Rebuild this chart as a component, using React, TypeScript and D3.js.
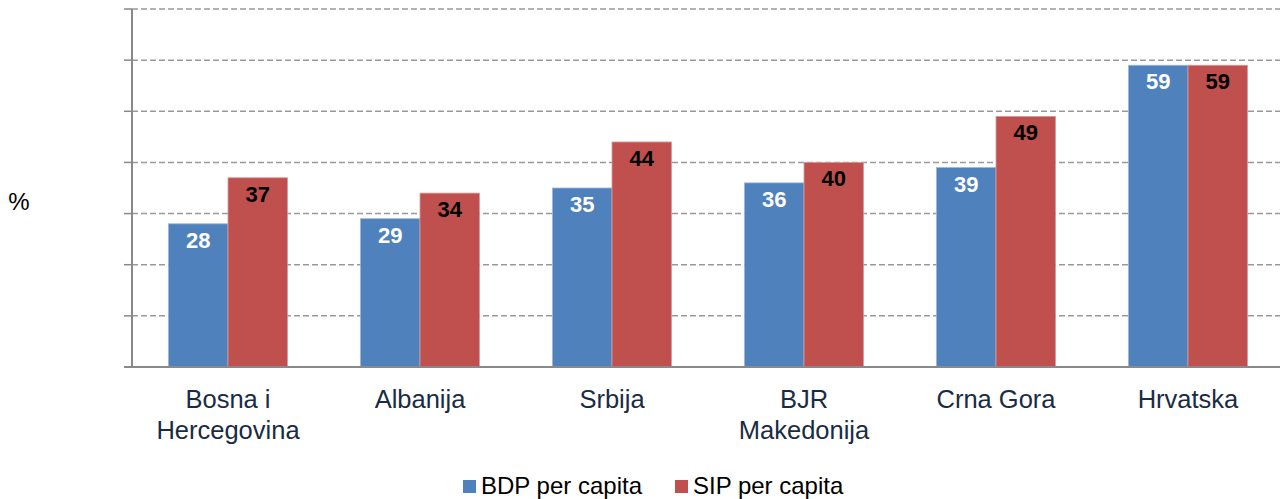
import React, { useEffect, useRef } from 'react';
import * as d3 from 'd3';

const categories = ['Bosna i|Hercegovina', 'Albanija', 'Srbija', 'BJR|Makedonija', 'Crna Gora', 'Hrvatska'];
const bdp = [28, 29, 35, 36, 39, 59];
const sip = [37, 34, 44, 40, 49, 59];
const seriesNames = ['BDP per capita', 'SIP per capita'];
const colors = ['#4F81BD', '#C0504D'];
const labelColors = ['#FFFFFF', '#000000'];
const yTicks = [0, 10, 20, 30, 40, 50, 60, 70];

function Chart() {
  const ref = useRef<SVGSVGElement>(null);

  useEffect(() => {
    const width = 1280;
    const height = 499;
    const left = 132;
    const right = 1284;
    const top = 9;
    const bottom = 367;
    const font = 'Liberation Sans, Arial, sans-serif';

    const svg = d3.select(ref.current);
    svg.selectAll('*').remove();
    svg.attr('width', width).attr('height', height);

    const x = d3.scaleBand().domain(categories).range([left, right]).paddingInner(0.38).paddingOuter(0.19);
    const xs = d3.scaleBand().domain(seriesNames).range([0, x.bandwidth()]);
    const y = d3.scaleLinear().domain([0, 70]).range([bottom, top]);

    // gridlines
    svg.append('g')
      .selectAll('line')
      .data(yTicks.filter(d => d > 0))
      .enter()
      .append('line')
      .attr('x1', left)
      .attr('x2', width)
      .attr('y1', d => y(d))
      .attr('y2', d => y(d))
      .attr('stroke', '#999')
      .attr('stroke-width', 1.5)
      .attr('stroke-dasharray', '6,3');

    // tick marks
    svg.append('g')
      .selectAll('line')
      .data(yTicks)
      .enter()
      .append('line')
      .attr('x1', left - 8)
      .attr('x2', left)
      .attr('y1', d => y(d))
      .attr('y2', d => y(d))
      .attr('stroke', '#898989')
      .attr('stroke-width', 1.5);

    const data = [bdp, sip];
    data.forEach((values, si) => {
      const g = svg.append('g');
      g.selectAll('rect')
        .data(values)
        .enter()
        .append('rect')
        .attr('x', (d, i) => (x(categories[i]) as number) + (xs(seriesNames[si]) as number))
        .attr('y', d => y(d))
        .attr('width', xs.bandwidth())
        .attr('height', d => bottom - y(d))
        .attr('fill', colors[si])
        .attr('stroke', si === 0 ? '#9DB6D8' : '#DC9896')
        .attr('stroke-width', 0.8);

      g.selectAll('text')
        .data(values)
        .enter()
        .append('text')
        .attr('x', (d, i) => (x(categories[i]) as number) + (xs(seriesNames[si]) as number) + xs.bandwidth() / 2)
        .attr('y', d => y(d) + 24)
        .attr('text-anchor', 'middle')
        .attr('font-family', font)
        .attr('font-weight', 'bold')
        .attr('font-size', 22)
        .attr('fill', labelColors[si])
        .text(d => d);
    });

    // axes lines
    svg.append('line')
      .attr('x1', left).attr('x2', left)
      .attr('y1', top).attr('y2', bottom)
      .attr('stroke', '#898989').attr('stroke-width', 2);
    svg.append('line')
      .attr('x1', left - 8).attr('x2', width)
      .attr('y1', bottom).attr('y2', bottom)
      .attr('stroke', '#898989').attr('stroke-width', 2);

    // category labels
    const cl = svg.append('g')
      .selectAll('text')
      .data(categories)
      .enter()
      .append('text')
      .attr('text-anchor', 'middle')
      .attr('font-family', font)
      .attr('font-size', 25.5)
      .attr('fill', '#1A2B44');
    cl.each(function (d) {
      const t = d3.select(this);
      const cx = (x(d) as number) + x.bandwidth() / 2;
      d.split('|').forEach((line, li) => {
        t.append('tspan').attr('x', cx).attr('y', 408 + li * 31).text(line);
      });
    });

    // y label
    svg.append('text')
      .attr('x', 19)
      .attr('y', 210)
      .attr('text-anchor', 'middle')
      .attr('font-family', font)
      .attr('font-size', 24)
      .attr('fill', '#000')
      .text('%');

    // legend
    const legendX = [463, 675];
    seriesNames.forEach((name, i) => {
      svg.append('rect')
        .attr('x', legendX[i]).attr('y', 480)
        .attr('width', 13).attr('height', 13)
        .attr('fill', colors[i]);
      svg.append('text')
        .attr('x', legendX[i] + 18).attr('y', 494)
        .attr('font-family', font)
        .attr('font-size', 24)
        .attr('fill', '#000')
        .text(name);
    });
  }, []);

  return <svg ref={ref}></svg>;
}

export default function App() {
  return (
    <div style={{ position: 'absolute', left: 0, top: 0 }}>
      <Chart />
    </div>
  );
}
